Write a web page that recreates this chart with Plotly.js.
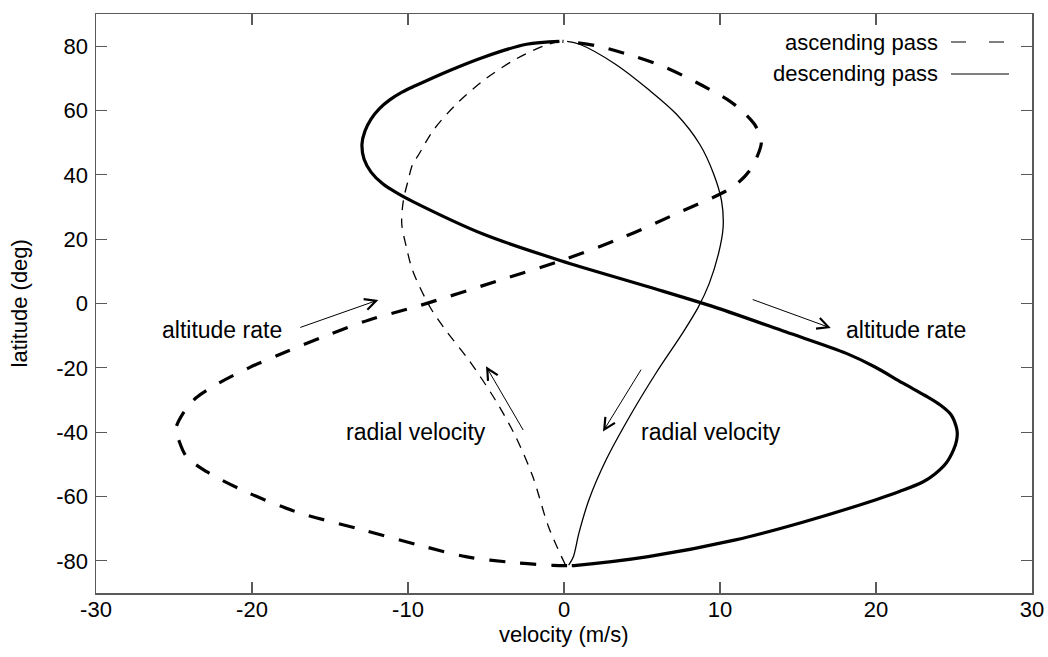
<!DOCTYPE html>
<html>
<head>
<meta charset="utf-8">
<script src="https://cdn.plot.ly/plotly-3.0.1.min.js"></script>
<style>
  html, body { margin: 0; padding: 0; background: #fff; }
  #chart { width: 1048px; height: 657px; }
</style>
</head>
<body>
<div id="chart"></div>
<script>
// Descending pass, altitude rate (m/s) against latitude (deg)
const descAltVel = [-0.3, -2.4, -5.2, -7.4, -9.5, -10.38, -11.15, -11.83, -12.37, -12.76, -12.95, -12.82, -12.37, -11.6, -10.64, -9.62, -5.19, -0.2, 5.4, 9.7, 14.2, 18.1, 19.94, 21.7, 23.14, 24.1, 24.81, 25.13, 25.21, 25.16, 24.97, 24.5, 23.78, 23.0, 21.54, 20.0, 15.3, 11.0, 5.4, 0.8, 0.5];
const descAltLat = [81.5, 80.6, 76.5, 72.3, 67.75, 65.7, 63.37, 60.58, 57.32, 53.59, 49.55, 44.89, 40.85, 37.12, 34.17, 31.53, 21.6, 13.3, 5.2, -1.2, -8.8, -15.5, -19.73, -24.7, -28.6, -31.5, -34.6, -38.1, -40.2, -42.7, -45.5, -49.6, -53.0, -55.5, -58.4, -61.0, -68.0, -73.5, -78.7, -81.4, -81.5];

// Descending pass, radial velocity
const descRadVel = [0.2, 1.0, 3.3, 5.4, 7.2, 8.7, 9.6, 10.1, 10.2, 9.9, 9.3, 8.6, 7.6, 5.9, 4.2, 2.7, 1.6, 0.96, 0.6, 0.3];
const descRadLat = [81.5, 80.6, 74.4, 66.6, 58.9, 49.5, 40.2, 31.9, 23.7, 15.4, 6.1, -1.2, -9.2, -21.6, -35.2, -48.6, -61.0, -71.3, -78.7, -81.3];

// Ascending pass, altitude rate
const ascAltVel = [0.2, -0.7, -3.1, -6.3, -9.0, -12.9, -17.2, -20.4, -22.9, -24.2, -24.7, -24.9, -24.4, -23.6, -22.1, -20.2, -18.0, -15.4, -12.5, -9.5, -4.2, -0.2, 3.8, 7.6, 10.2, 11.2, 11.9, 12.4, 12.65, 12.5, 12.2, 11.5, 10.6, 8.5, 6.5, 4.4, 2.1, 0.8, -0.1];
const ascAltLat = [-81.5, -81.4, -80.6, -78.7, -75.5, -70.4, -64.7, -58.5, -52.3, -47.6, -42.4, -39.3, -34.0, -29.4, -24.7, -20.0, -15.4, -10.3, -5.1, -1.0, 7.1, 13.3, 20.6, 28.8, 34.5, 37.7, 41.3, 45.9, 50.0, 53.0, 55.8, 59.5, 63.0, 68.7, 73.4, 77.0, 80.1, 81.1, 81.5];

// Ascending pass, radial velocity
const ascRadVel = [0.1, -1.0, -2.0, -3.1, -4.4, -6.1, -7.6, -8.6, -9.7, -10.1, -10.4, -10.3, -10.0, -9.7, -9.3, -8.4, -6.9, -5.2, -3.3, -1.3, -0.3];
const ascRadLat = [-81.4, -69.3, -53.8, -41.4, -30.0, -17.6, -8.2, -1.0, 10.2, 17.5, 24.7, 31.9, 38.1, 43.3, 46.4, 53.7, 62.0, 69.2, 75.4, 80.1, 81.5];

const xTicks = [-30, -20, -10, 0, 10, 20, 30];
const yTicks = [-80, -60, -40, -20, 0, 20, 40, 60, 80];

const xTitle = 'velocity (m/s)';
const yTitle = 'latitude (deg)';
const legendNames = ['ascending pass', 'descending pass'];

const FONT = 'Liberation Sans, Arial, Helvetica, sans-serif';
const AXIS_GREY = '#5a5a5a';

function curve(xs, ys, width, dash, name) {
  return {
    type: 'scatter', mode: 'lines', name: name,
    x: xs, y: ys,
    line: { color: '#000', width: width, dash: dash, shape: 'spline', smoothing: 0.9 },
    hoverinfo: 'skip'
  };
}

const traces = [
  curve(descAltVel, descAltLat, 3.2, 'solid', 'descending altitude rate'),
  curve(descRadVel, descRadLat, 1.3, 'solid', 'descending radial velocity'),
  curve(ascAltVel, ascAltLat, 3.2, '16px,15px', 'ascending altitude rate'),
  curve(ascRadVel, ascRadLat, 1.3, '10px,8px', 'ascending radial velocity')
];

function textNote(x, y, text) {
  return { x: x, y: y, xref: 'x', yref: 'y', text: text, showarrow: false,
           xanchor: 'center', yanchor: 'middle', font: { family: FONT, size: 23, color: '#000' } };
}
function arrowNote(x0, y0, x1, y1) {
  return { x: x1, y: y1, ax: x0, ay: y0, xref: 'x', yref: 'y', axref: 'x', ayref: 'y',
           text: '', showarrow: true, arrowhead: 5, arrowsize: 2.2, arrowwidth: 1, arrowcolor: '#000' };
}

const annotations = [
  textNote(-21.9, -8.3, 'altitude rate'),
  arrowNote(-17.0, -7.6, -11.9, 1.1),
  textNote(21.9, -8.3, 'altitude rate'),
  arrowNote(12.0, 1.4, 17.1, -7.6),
  textNote(-9.5, -40, 'radial velocity'),
  arrowNote(-2.56, -39.8, -5.0, -19.5),
  textNote(9.4, -40, 'radial velocity'),
  arrowNote(5.0, -20.1, 2.5, -39.8),
  // axis titles
  { x: 0.5, y: -0.0725, xref: 'paper', yref: 'paper', text: xTitle, showarrow: false,
    xanchor: 'center', yanchor: 'middle', font: { family: FONT, size: 22, color: '#000' } },
  { x: -0.0812, y: 0.5, xref: 'paper', yref: 'paper', text: yTitle, showarrow: false, textangle: -90,
    xanchor: 'center', yanchor: 'middle', font: { family: FONT, size: 22, color: '#000' } },
  // key entries, text to the left of the line sample
  { x: 0.9017, y: 0.9516, xref: 'paper', yref: 'paper', text: legendNames[0], showarrow: false,
    xanchor: 'right', yanchor: 'middle', font: { family: FONT, size: 22, color: '#000' } },
  { x: 0.9017, y: 0.8964, xref: 'paper', yref: 'paper', text: legendNames[1], showarrow: false,
    xanchor: 'right', yanchor: 'middle', font: { family: FONT, size: 22, color: '#000' } }
];

const shapes = [
  { type: 'line', xref: 'paper', yref: 'paper', x0: 0.9135, x1: 0.9754, y0: 0.9516, y1: 0.9516,
    line: { color: '#000', width: 1.2, dash: '15px,23px' } },
  { type: 'line', xref: 'paper', yref: 'paper', x0: 0.9135, x1: 0.9754, y0: 0.8964, y1: 0.8964,
    line: { color: '#000', width: 1.2 } }
];

const axisCommon = {
  ticks: 'inside', ticklen: 11, tickwidth: 1.3, tickcolor: AXIS_GREY,
  showline: true, linecolor: AXIS_GREY, linewidth: 1.5, mirror: 'ticks',
  showgrid: false, zeroline: false, automargin: false,
  tickfont: { family: FONT, size: 22, color: '#000' }
};

const layout = {
  width: 1048, height: 657,
  margin: { l: 96, r: 16, t: 14, b: 64 },
  paper_bgcolor: '#fff', plot_bgcolor: '#fff',
  showlegend: false,
  font: { family: FONT, size: 22, color: '#000' },
  xaxis: Object.assign({}, axisCommon, {
    range: [-30, 30], tickmode: 'array', tickvals: xTicks, ticktext: xTicks.map(String),
    ticklabelstandoff: -4
  }),
  yaxis: Object.assign({}, axisCommon, {
    range: [-90, 90], tickmode: 'array', tickvals: yTicks, ticktext: yTicks.map(String),
    ticklabelstandoff: 2
  }),
  annotations: annotations,
  shapes: shapes
};

Plotly.newPlot('chart', traces, layout, { staticPlot: true, displayModeBar: false });
</script>
</body>
</html>
